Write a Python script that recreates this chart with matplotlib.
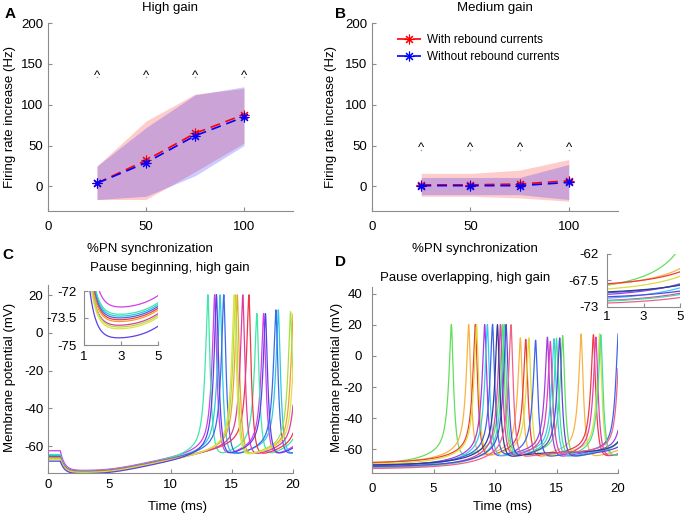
import numpy as np
import matplotlib.pyplot as plt
from matplotlib.lines import Line2D

plt.rcParams['font.family'] = ['Liberation Sans', 'DejaVu Sans']
plt.rcParams['font.size'] = 9.5
plt.rcParams['axes.unicode_minus'] = False

# -----------------------
# Panels A / B: firing rate increase vs %PN synchronization
# -----------------------
sync = [25, 50, 75, 100]

hi_with = [4, 32, 65, 88]
hi_without = [4, 29, 62, 85]
hi_with_lo = [-16, -16, 18, 53]
hi_with_hi = [25, 80, 113, 120]
hi_without_lo = [-16, -12, 13, 50]
hi_without_hi = [25, 72, 112, 122]
hi_caret = 132

med_with = [2, 2, 3, 7]
med_without = [1, 1, 1, 5]
med_with_lo = [-12, -12, -14, -18]
med_with_hi = [16, 16, 20, 33]
med_without_lo = [-10, -10, -10, -16]
med_without_hi = [11, 11, 11, 27]
med_caret = 43

# -----------------------
# Panel C: pause beginning traces (spike times / peaks)
# -----------------------
c_colors = ['#d040e8', '#40e8a8', '#30c8e0', '#3a6af0', '#f03848',
            '#f0a030', '#e03ca0', '#a8e040', '#e0e048', '#5a40e8']
c_v0 = [-62.5, -64.5, -65.0, -65.5, -66.0, -66.3, -67.0, -66.6, -67.2, -68.0]
c_vfloor = [-73.0, -73.4, -73.5, -73.6, -73.7, -73.8, -74.0, -74.1, -74.2, -74.7]
c_spikes = [[13.6, 17.6, 21.6], [13.05, 17.05, 21.0], [14.05, 18.8, 23.0],
            [14.35, 18.6, 22.8], [16.4, 20.8], [15.45, 20.02], [15.9, 20.4],
            [15.3, 19.8, 24.0], [15.2, 20.2], [13.75, 17.75, 21.8]]
c_peaks = [[20, 10, 10], [20, 10, 10], [20, 12, 12], [20, 12, 12], [20, 12],
           [20, 11], [20, 12], [20, 11, 11], [20, 11], [20, 10, 10]]

# -----------------------
# Panel D: pause overlapping traces
# -----------------------
d_colors = ['#62e05c', '#f7b445', '#ee3c3c', '#dede3a', '#a23ee0', '#3cc8f0',
            '#3e64e8', '#e040b8', '#42e09a', '#5846e0', '#303c8c', '#f0608c']
d_v0 = [-69.0, -68.6, -68.4, -69.5, -70.6, -71.4, -70.2, -71.8, -71.9, -71.0, -70.0, -72.3]
d_spikes = [[6.45, 10.6, 15.5, 21.0], [7.86, 12.06, 17.0, 22.0], [8.4, 12.5, 18.0, 23.0],
            [8.5, 12.75, 18.5, 23.0], [9.16, 14.26, 20.6], [9.38, 14.8, 21.0],
            [9.8, 13.3, 20.02], [10.44, 14.5, 18.2, 23.0], [10.75, 15.0, 18.6, 23.0],
            [10.9, 15.26, 21.5], [10.2, 21.0], [11.3, 20.15]]
d_peaks = [[20, 20, 13, 13], [20, 11.5, 14, 14], [20, 10.5, 13.5, 13.5],
           [20, 11.5, 14, 14], [20, 12, 12], [20, 11, 11], [20, 10, 15],
           [20, 9, 12, 12], [20, 11, 13.5, 13.5], [20, 11.5, 11.5], [20, 12], [20, 14]]

W, H = 686, 516
fig = plt.figure(figsize=(W / 100, H / 100), dpi=100)


def box(l, t, r, b):
    return [l / W, 1 - b / H, (r - l) / W, (b - t) / H]


def ftext(x, y, s, **kw):
    fig.text(x / W, 1 - y / H, s, ha='center', va='center', **kw)


def style(ax, pad_x=7, pad_y=3.5):
    for side in ['top', 'right']:
        ax.spines[side].set_visible(False)
    for side in ['left', 'bottom']:
        ax.spines[side].set_color('#8c8c8c')
        ax.spines[side].set_linewidth(0.8)
    ax.tick_params(direction='in', length=3, width=0.8, color='#8c8c8c', labelsize=9.5)
    ax.tick_params(axis='x', pad=pad_x)
    ax.tick_params(axis='y', pad=pad_y)


star = (8, 2, 0)


def rate_panel(ax, w, wo, w_lo, w_hi, wo_lo, wo_hi, caret_y):
    ax.fill_between(sync, w_lo, w_hi, color='red', alpha=0.2, lw=0)
    ax.fill_between(sync, wo_lo, wo_hi, color='blue', alpha=0.2, lw=0)
    ax.plot(sync, w, color='red', ls='--', dashes=(6, 3.5), lw=1.2,
            marker=star, ms=7, mew=0.8)
    ax.plot(sync, wo, color='blue', ls='--', dashes=(6, 3.5), lw=1.2,
            marker=star, ms=7, mew=0.8)
    for x in sync:
        ax.text(x, caret_y, '^', ha='center', va='baseline', fontsize=9.5)
    ax.plot(sync, [caret_y + 1.5] * len(sync), ls='none', marker='o', ms=1.2,
            color='#aaaaaa', mew=0)
    ax.set_xlim(0, 125)
    ax.set_ylim(-30, 200)
    ax.set_xticks([0, 50, 100])
    ax.set_yticks([0, 50, 100, 150, 200])
    style(ax, pad_x=7, pad_y=3.5)


axA = fig.add_axes(box(48, 23, 293, 211))
rate_panel(axA, hi_with, hi_without, hi_with_lo, hi_with_hi,
           hi_without_lo, hi_without_hi, hi_caret)
axB = fig.add_axes(box(372, 23, 618, 211))
rate_panel(axB, med_with, med_without, med_with_lo, med_with_hi,
           med_without_lo, med_without_hi, med_caret)

handles = [Line2D([], [], color='red', ls='--', dashes=(6, 3.5), lw=1.2, marker=star, ms=7, mew=0.8),
           Line2D([], [], color='blue', ls='--', dashes=(6, 3.5), lw=1.2, marker=star, ms=7, mew=0.8)]
axB.legend(handles, ['With rebound currents', 'Without rebound currents'],
           loc='upper left', bbox_to_anchor=(397 / W, 1 - 34 / H),
           bbox_transform=fig.transFigure, frameon=False, fontsize=8.5,
           borderpad=0, borderaxespad=0, handlelength=2.0, handletextpad=0.5,
           labelspacing=0.45)

# -----------------------
# Membrane potential traces
# -----------------------
t = np.linspace(0, 20, 8001)
V_RESET, V_TH = -62.0, -60.0
R_TOP = 0.08  # rounding of spike tops (ms)


def soft_abs(x):
    return np.sqrt(x ** 2 + R_TOP ** 2) - R_TOP


def kernel(x):
    return 0.8 * np.exp(-soft_abs(x) / 0.22) + 0.2 * np.exp(x / 0.9)


def ahp(x):
    return -2.8 * (x / 0.9) * np.exp(1 - x / 0.9)


def build(seg0, spikes, peaks, tau_g):
    v = np.empty_like(t)
    edges = [0.0] + list(spikes)
    for k in range(len(spikes)):
        t0, t1 = edges[k], edges[k + 1]
        m = (t >= t0) & (t < t1)
        tm = t[m]
        if k == 0:
            slow = seg0(tm)
            slow_end = seg0(np.array([t1]))[0]
        else:
            x = tm - t0
            d = t1 - t0
            b = (V_TH - V_RESET - ahp(d)) / (np.exp(d / tau_g) - 1)
            slow = (V_RESET + ahp(x) + b * (np.exp(x / tau_g) - 1)
                    + (peaks[k - 1] - V_RESET) * np.exp(-soft_abs(x) / 0.2))
            slow_end = V_TH
        v[m] = slow + (peaks[k] - slow_end) * kernel(tm - t1)
    return v


def c_seg0(v0, vf):
    def f(tt):
        x = np.clip(tt - 1.0, 0, None)
        ramp = 1.35 * 0.8 * (np.log1p(np.exp((x - 4.0) / 0.8)) - np.log1p(np.exp(-4.0 / 0.8)))
        return vf + (v0 - vf) * np.exp(-x / 0.35) + ramp
    return f


def d_seg0(v0, s1):
    a = (V_TH - v0) / (np.exp(s1 / 3.0) - 1)
    return lambda tt: v0 + a * (np.exp(tt / 3.0) - 1)


c_traces = [build(c_seg0(c_v0[i], c_vfloor[i]), c_spikes[i], c_peaks[i], 1.5)
            for i in range(len(c_colors))]
d_traces = [build(d_seg0(d_v0[i], d_spikes[i][0]), d_spikes[i], d_peaks[i], 2.0)
            for i in range(len(d_colors))]

axC = fig.add_axes(box(48, 285, 293, 473))
for v, col in zip(c_traces, c_colors):
    axC.plot(t, v, color=col, lw=0.9)
axC.set_xlim(0, 20)
axC.set_ylim(-74.3, 25.3)
axC.set_xticks([0, 5, 10, 15, 20])
axC.set_yticks([-60, -40, -20, 0, 20])
style(axC, pad_x=4, pad_y=3.5)

axCi = fig.add_axes(box(84, 291, 158, 345))
for v, col in zip(c_traces, c_colors):
    axCi.plot(t, v, color=col, lw=0.9)
axCi.set_xlim(1, 5)
axCi.set_ylim(-75, -72)
axCi.set_xticks([1, 3, 5])
axCi.set_yticks([-75, -73.5, -72])
axCi.set_yticklabels(['-75', '-73.5', '-72'])
style(axCi, pad_x=4, pad_y=5)
axCi.patch.set_alpha(0)

axD = fig.add_axes(box(372, 287, 618, 473))
for v, col in zip(d_traces, d_colors):
    axD.plot(t, v, color=col, lw=0.9)
axD.set_xlim(0, 20)
axD.set_ylim(-75.2, 44.2)
axD.set_xticks([0, 5, 10, 15, 20])
axD.set_yticks([-60, -40, -20, 0, 20, 40])
style(axD, pad_x=7, pad_y=7)

axDi = fig.add_axes(box(607, 254, 680, 307))
for v, col in zip(d_traces, d_colors):
    axDi.plot(t, v, color=col, lw=0.9)
axDi.set_xlim(1, 5)
axDi.set_ylim(-73, -62)
axDi.set_xticks([1, 3, 5])
axDi.set_yticks([-73, -67.5, -62])
axDi.set_yticklabels(['-73', '-67.5', '-62'])
style(axDi, pad_x=3, pad_y=6)
axDi.patch.set_alpha(0)

# -----------------------
# Labels / titles
# -----------------------
ftext(170, 8, 'High gain')
ftext(495, 8, 'Medium gain')
ftext(150, 249, '%PN synchronization')
ftext(475, 249, '%PN synchronization')
ftext(10, 117, 'Firing rate increase (Hz)', rotation=90)
ftext(331, 117, 'Firing rate increase (Hz)', rotation=90)

ftext(170, 268, 'Pause beginning, high gain')
ftext(465, 278, 'Pause overlapping, high gain')
ftext(177, 507, 'Time (ms)')
ftext(502, 507, 'Time (ms)')
ftext(10, 377, 'Membrane potential (mV)', rotation=90)
ftext(337, 377, 'Membrane potential (mV)', rotation=90)

for lbl, x, y in [('A', 10, 14), ('B', 340, 14), ('C', 8, 255), ('D', 341, 262)]:
    ftext(x, y, lbl, fontsize=11, fontweight='bold')

fig.savefig('out.png', dpi=100)
